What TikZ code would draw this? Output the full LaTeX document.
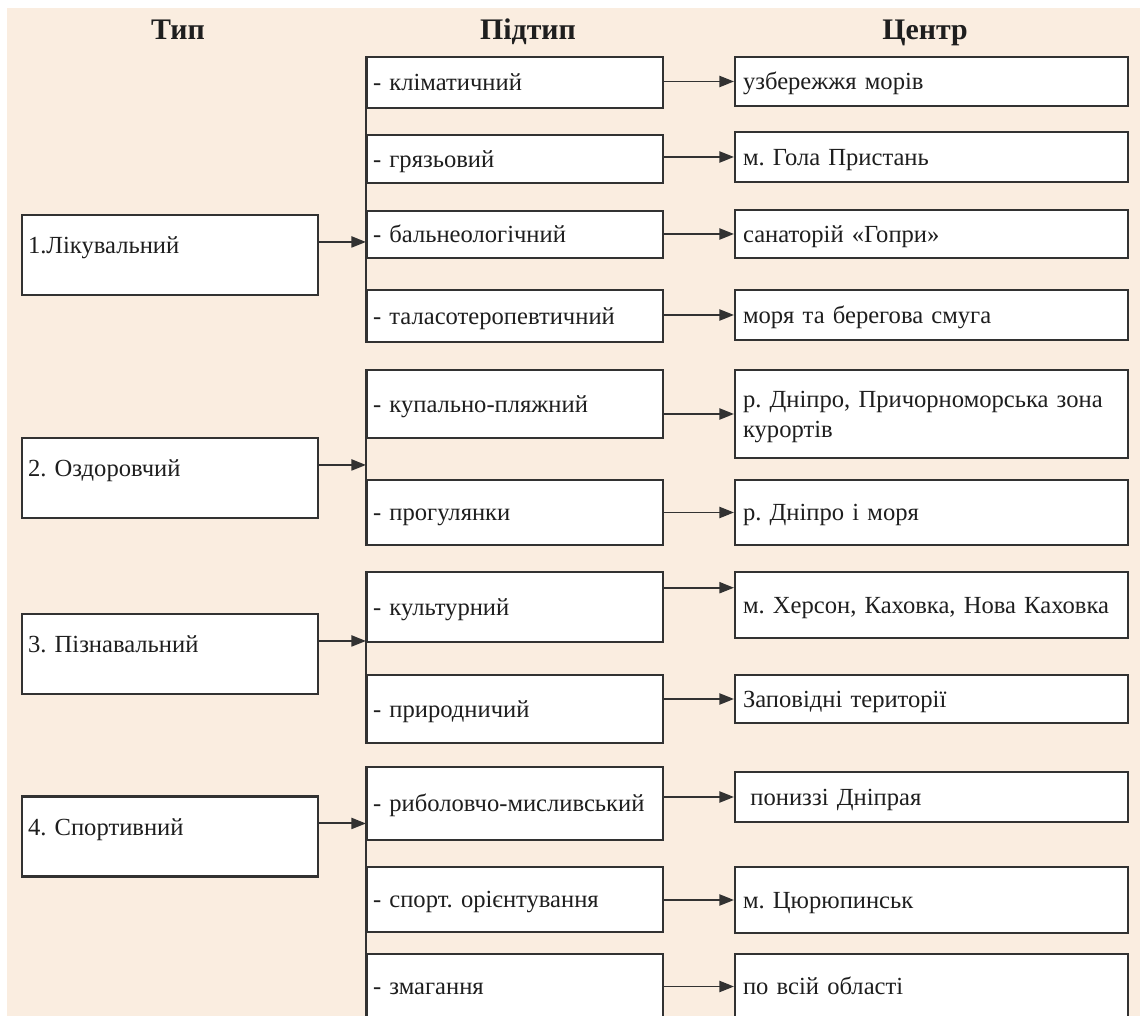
\documentclass[tikz,border=0pt]{standalone}
\usepackage{fontspec}
\setmainfont{Liberation Serif}
\usepackage{tikz}
\usetikzlibrary{arrows.meta}
\definecolor{peach}{RGB}{250,237,224}
\definecolor{boxline}{RGB}{50,50,50}
\definecolor{ink}{RGB}{30,30,30}
\newcommand{\widthtype}{5.68cm}
\newcommand{\widthsub}{5.68cm}
\newcommand{\widthcentre}{7.54cm}
\frenchspacing
\tikzset{
    common/.style={draw=boxline, fill=white, line width=1.2pt, rectangle, inner xsep=0.12cm, align=left, text=ink,
        font=\fontsize{14pt}{17pt}\selectfont, text height=11.5pt, text depth=2pt},
    typebox/.style={common, minimum height=1.6cm, text width=\widthtype, inner ysep=0pt, text height=0.77cm, text depth=0.83cm},
    subbox/.style={common, text width=\widthsub, minimum height=#1},
    centrebox/.style={common, inner xsep=0.16cm, text width=\widthcentre, minimum height=#1},
    header/.style={anchor=base, font=\fontsize{17pt}{20pt}\selectfont\bfseries, text=ink},
    feed/.style={draw=boxline, line width=1.1pt, -{Triangle[length=0.29cm, width=0.22cm]}},
    trunk/.style={draw=boxline, line width=1.2pt}
}
\begin{document}
\begin{tikzpicture}[x=0.02cm, y=-0.02cm]
    \useasboundingbox (0,0) rectangle (1140,1016);
    \clip (0,0) rectangle (1140,1016);
    \fill[white] (0,0) rectangle (1140,1016);
    \fill[peach] (7,8) rectangle (1140,1016);

    % column heads
    \node[header] (htype) at (178,40) {Тип};
    \node[header] (hsub) at (528,40) {Підтип};
    \node[header] (hcentre) at (925,40) {Центр};

    % types
    \node[typebox] (t1) at (170,255) {1.Лікувальний};
    \node[typebox] (t2) at (170,478) {2. Оздоровчий};
    \node[typebox] (t3) at (170,654) {3. Пізнавальний};
    \node[typebox] (t4) at (170,836.5) {4. Спортивний};

    % subtypes
    \node[subbox=1.02cm] (s1) at (515,82.5) {- кліматичний};
    \node[subbox=0.96cm] (s2) at (515,159) {- грязьовий};
    \node[subbox=0.94cm] (s3) at (515,234.5) {- бальнеологічний};
    \node[subbox=1.04cm] (s4) at (515,316) {- таласотеропевтичний};
    \node[subbox=1.36cm] (s5) at (515,404) {- купально-пляжний};
    \node[subbox=1.30cm] (s6) at (515,512.5) {- прогулянки};
    \node[subbox=1.40cm] (s7) at (515,607) {- культурний};
    \node[subbox=1.36cm] (s8) at (515,709) {- природничий};
    \node[subbox=1.46cm] (s9) at (515,803.5) {- риболовчо-мисливський};
    \node[subbox=1.30cm] (s10) at (515,899.5) {- спорт. орієнтування};
    \node[subbox=1.30cm] (s11) at (515,986.5) {- змагання};

    % centres
    \node[centrebox=0.98cm] (c1) at (931.5,81.5) {узбережжя морів};
    \node[centrebox=1.00cm] (c2) at (931.5,157) {м. Гола Пристань};
    \node[centrebox=0.96cm] (c3) at (931.5,234) {санаторій «Гопри»};
    \node[centrebox=1.00cm] (c4) at (931.5,315) {моря та берегова смуга};
    \node[centrebox=1.76cm, text depth=19pt] (c5) at (931.5,414) {р. Дніпро, Причорноморська зона\\курортів};
    \node[centrebox=1.30cm] (c6) at (931.5,512.5) {р. Дніпро і моря};
    \node[centrebox=1.32cm] (c7) at (931.5,605) {м. Херсон, Каховка, Нова Каховка};
    \node[centrebox=0.96cm] (c8) at (931.5,699) {Заповідні території};
    \node[centrebox=1.00cm] (c9) at (931.5,797) {\hspace*{0.3em}пониззі Дніпрая};
    \node[centrebox=1.32cm] (c10) at (931.5,900) {м. Цюрюпинськ};
    \node[centrebox=1.30cm] (c11) at (931.5,986.5) {по всій області};

    % type -> subtype groups
    \draw[trunk] (s1.north west) -- (s4.south west) (s5.north west) -- (s6.south west)
                 (s7.north west) -- (s8.south west) (s9.north west) -- (s11.south west);
    \draw[feed] (t1.5) -- (t1.5 -| s1.west);
    \draw[feed] (t2.5) -- (t2.5 -| s5.west);
    \draw[feed] (t3.5) -- (t3.5 -| s7.west);
    \draw[feed] (t4.5) -- (t4.5 -| s9.west);

    % subtype -> centre
    \foreach \i/\a in {1/180,2/180,3/180,4/180,5/180,6/180,7/175,8/180,9/180,10/180,11/180}
        \draw[feed] (s\i.east |- c\i.\a) -- (c\i.\a);
\end{tikzpicture}
\end{document}
